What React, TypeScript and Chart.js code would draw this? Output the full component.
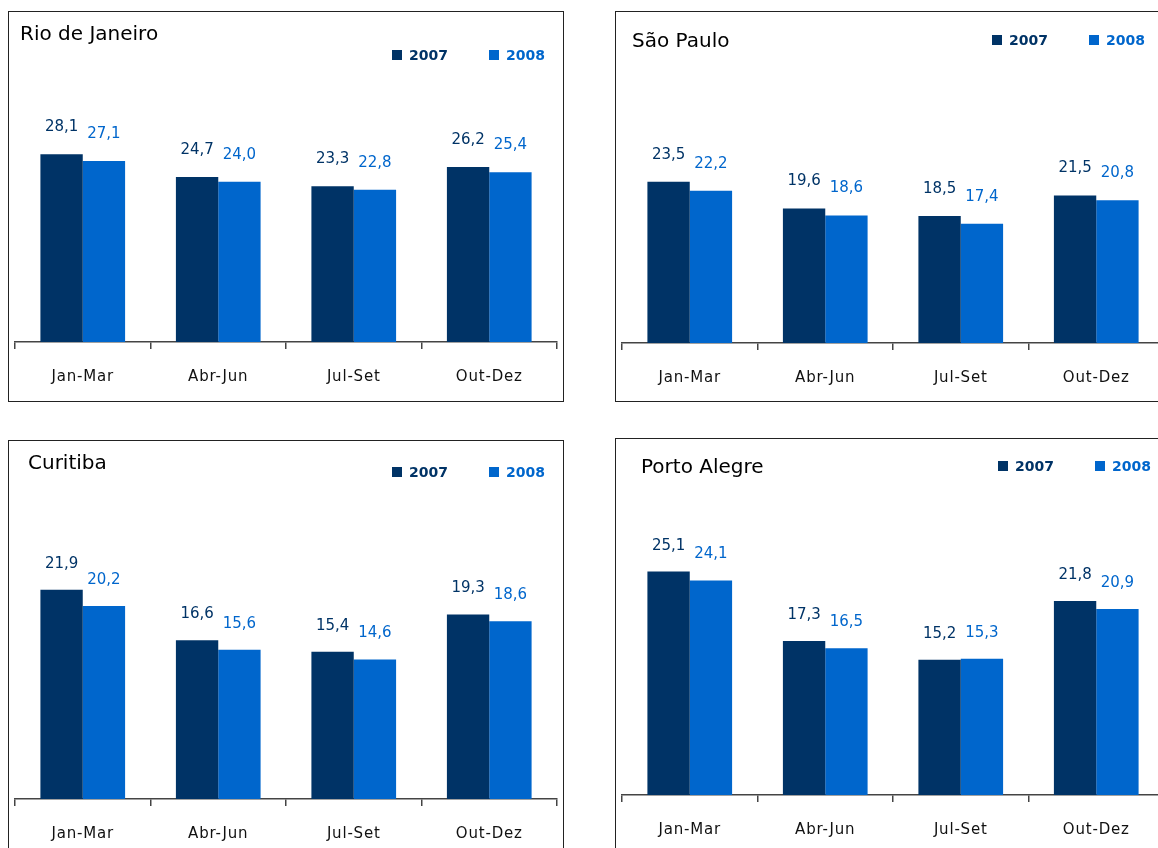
import React, { useEffect, useRef } from "react";
import { Chart, registerables } from "chart.js";

Chart.register(...registerables);

// ---- data ----
const quarters = ["Jan-Mar", "Abr-Jun", "Jul-Set", "Out-Dez"];
const seriesLabels = ["2007", "2008"];
const seriesColors = ["#003366", "#0066CC"];

const rio2007 = [28.1, 24.7, 23.3, 26.2];
const rio2008 = [27.1, 24.0, 22.8, 25.4];
const sp2007 = [23.5, 19.6, 18.5, 21.5];
const sp2008 = [22.2, 18.6, 17.4, 20.8];
const cwb2007 = [21.9, 16.6, 15.4, 19.3];
const cwb2008 = [20.2, 15.6, 14.6, 18.6];
const poa2007 = [25.1, 17.3, 15.2, 21.8];
const poa2008 = [24.1, 16.5, 15.3, 20.9];

const FONT = "'DejaVu Sans', 'Noto Sans', sans-serif";

type PanelCfg = {
  title: string;
  a: number[];
  b: number[];
  left: number;
  top: number;
  height: number;
  axisY: number;
  ppu: number;
  titleX: number;
  titleY: number;
  legendX: number;
  legendY: number;
  labelOffset: number;
};

const panels: PanelCfg[] = [
  { title: "Rio de Janeiro", a: rio2007, b: rio2008, left: 8, top: 11, height: 391, axisY: 342, ppu: 6.68, titleX: 20, titleY: 33, legendX: 392, legendY: 55, labelOffset: 27 },
  { title: "São Paulo", a: sp2007, b: sp2008, left: 615, top: 11, height: 391, axisY: 343, ppu: 6.86, titleX: 632, titleY: 40, legendX: 992, legendY: 40, labelOffset: 27 },
  { title: "Curitiba", a: cwb2007, b: cwb2008, left: 8, top: 440, height: 430, axisY: 799, ppu: 9.56, titleX: 28, titleY: 462, legendX: 392, legendY: 472, labelOffset: 26 },
  { title: "Porto Alegre", a: poa2007, b: poa2008, left: 615, top: 438, height: 430, axisY: 795, ppu: 8.9, titleX: 641, titleY: 466, legendX: 998, legendY: 466, labelOffset: 26 },
];

const PANEL_W = 556;
const TICK_LEN = 7;
const TICK_PAD = 19;
const TICK_FONT = 15;
const AXIS_H = TICK_LEN + 2 * TICK_PAD + TICK_FONT * 1.2;

const spacing = {
  id: "spacing",
  beforeDraw(chart: any) {
    (chart.ctx as any).letterSpacing = "0.8px";
  },
  afterDraw(chart: any) {
    (chart.ctx as any).letterSpacing = "0px";
  },
};

function makeValueLabels(offset: number) {
  return {
    id: "valueLabels",
    afterDatasetsDraw(chart: any) {
      const ctx = chart.ctx;
      chart.data.datasets.forEach((ds: any, di: number) => {
        const meta = chart.getDatasetMeta(di);
        meta.data.forEach((bar: any, i: number) => {
          const v = ds.data[i] as number;
          ctx.save();
          (ctx as any).letterSpacing = "0px";
          ctx.font = `15px ${FONT}`;
          ctx.fillStyle = ds.backgroundColor;
          ctx.textAlign = "center";
          ctx.textBaseline = "middle";
          ctx.fillText(v.toFixed(1).replace(".", ","), bar.x, bar.y - offset);
          ctx.restore();
        });
      });
    },
  };
}

function Panel({ cfg }: { cfg: PanelCfg }) {
  const ref = useRef<HTMLCanvasElement | null>(null);
  const canvasLeft = cfg.left + 1;
  const canvasTop = cfg.top + 1;
  const canvasW = PANEL_W - 2;
  const canvasH = cfg.height - 2;
  const chartTop = canvasTop + 40;
  const yMax = (cfg.axisY - chartTop) / cfg.ppu;
  const padBottom = canvasH - (cfg.axisY - canvasTop) - AXIS_H;

  useEffect(() => {
    if (!ref.current) return;
    const chart = new Chart(ref.current, {
      type: "bar",
      data: {
        labels: quarters,
        datasets: [
          { label: seriesLabels[0], data: cfg.a, backgroundColor: seriesColors[0], borderWidth: 0, categoryPercentage: 0.625, barPercentage: 1.0 },
          { label: seriesLabels[1], data: cfg.b, backgroundColor: seriesColors[1], borderWidth: 0, categoryPercentage: 0.625, barPercentage: 1.0 },
        ],
      },
      options: {
        responsive: false,
        animation: false,
        layout: { padding: { top: 40, left: 6, right: 6, bottom: padBottom } },
        plugins: {
          legend: { display: false },
          title: { display: false },
          tooltip: { enabled: false },
        },
        scales: {
          x: {
            grid: { display: true, drawOnChartArea: false, drawTicks: true, tickLength: TICK_LEN, color: "#444", lineWidth: 1.5, offset: true },
            border: { display: true, color: "#444", width: 1.5 },
            ticks: { color: "#111", padding: TICK_PAD, font: { family: FONT, size: TICK_FONT, lineHeight: 1.2 }, maxRotation: 0 },
          },
          y: { display: false, min: 0, max: yMax },
        },
      },
      plugins: [spacing, makeValueLabels(cfg.labelOffset)],
    });
    return () => chart.destroy();
  }, []);

  return (
    <>
      <div
        style={{
          position: "absolute",
          left: cfg.left,
          top: cfg.top,
          width: PANEL_W,
          height: cfg.height,
          boxSizing: "border-box",
          border: "1px solid #222",
          background: "#fff",
        }}
      />
      <canvas
        ref={ref}
        width={canvasW}
        height={canvasH}
        style={{ position: "absolute", left: canvasLeft, top: canvasTop, width: canvasW, height: canvasH }}
      />
      <div
        style={{
          position: "absolute",
          left: cfg.titleX,
          top: cfg.titleY - 12,
          height: 24,
          lineHeight: "24px",
          fontFamily: FONT,
          fontSize: 20,
          color: "#000",
          whiteSpace: "nowrap",
        }}
      >
        {cfg.title}
      </div>
      {seriesLabels.map((s, i) => (
        <div
          key={s}
          style={{
            position: "absolute",
            left: cfg.legendX + i * 97,
            top: cfg.legendY - 8,
            height: 16,
            lineHeight: "16px",
            fontFamily: FONT,
            fontWeight: "bold",
            fontSize: 14,
            color: seriesColors[i],
            whiteSpace: "nowrap",
            display: "flex",
            alignItems: "center",
          }}
        >
          <span style={{ display: "inline-block", width: 10, height: 10, background: seriesColors[i], marginRight: 7 }} />
          {s}
        </div>
      ))}
    </>
  );
}

export default function App() {
  return (
    <div
      style={{
        position: "absolute",
        left: 0,
        top: 0,
        width: 1158,
        height: 848,
        overflow: "hidden",
        background: "#fff",
      }}
    >
      {panels.map((p) => (
        <Panel key={p.title} cfg={p} />
      ))}
    </div>
  );
}
